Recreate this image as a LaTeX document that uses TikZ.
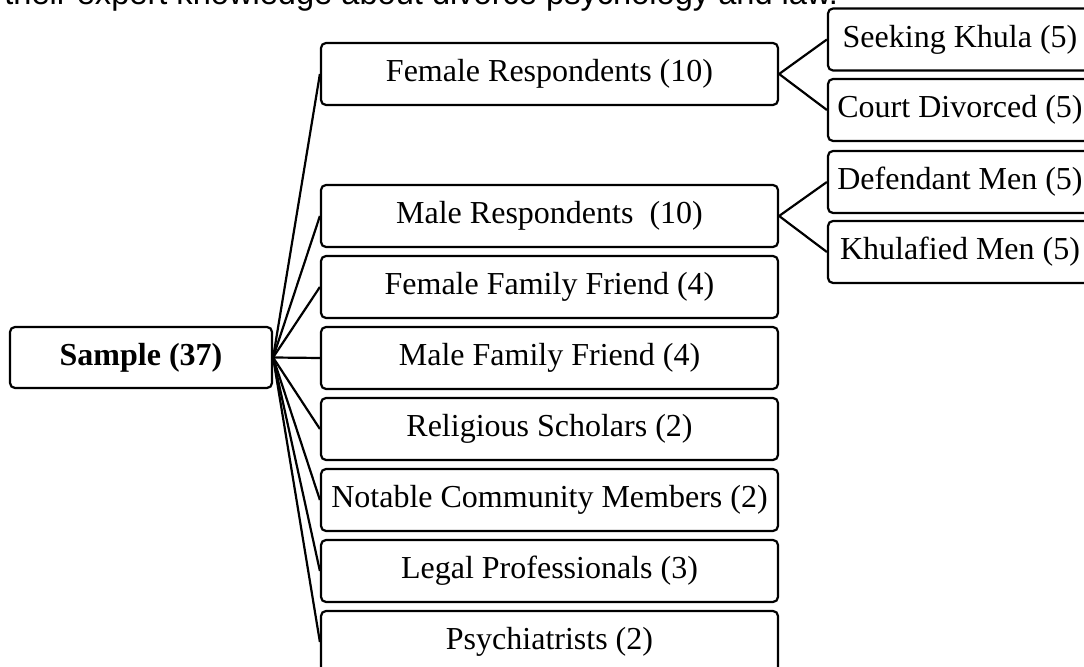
\documentclass[tikz,border=0pt]{standalone}
\usepackage{fontspec}
\setmainfont{Liberation Serif}
\newfontfamily\captfont{Liberation Sans}

\begin{document}
\begin{tikzpicture}[x=0.5pt,y=-0.5pt,
    box/.style={draw,line width=1.1pt,rounded corners=2.5pt,inner sep=0pt,
        minimum height=31pt,font=\fontsize{16}{19}\selectfont},
    midbox/.style={box,minimum width=228.5pt},
    subbox/.style={box,minimum width=132pt},
    link/.style={line width=1.1pt}]
    \useasboundingbox (0,0) rectangle (1084,667);
    \clip (0,0) rectangle (1084,667);

    \node[anchor=base west,inner sep=0pt,font=\captfont\fontsize{16.3}{19}\selectfont] (cap) at (4,4.5)
        {their expert knowledge about divorce psychology and law.};

    \node[box,minimum width=131pt,minimum height=30.5pt,
        font={\fontsize{16}{19}\selectfont\bfseries}] (sample) at (141,357.5) {Sample (37)};

    \node[midbox] (fr) at (549.5,74) {Female Respondents (10)};
    \foreach \nm/\lbl [count=\i from 0] in {mr/Male Respondents~ (10),fff/Female Family Friend (4),
        mff/Male Family Friend (4),rs/Religious Scholars (2),ncm/Notable Community Members (2),
        lp/Legal Professionals (3),ps/Psychiatrists (2)}
        \node[midbox] (\nm) at (549.5,216+71*\i) {\lbl};

    \node[subbox] (sk) at (960,39.5) {Seeking Khula (5)};
    \node[subbox] (cd) at (960,110) {Court Divorced (5)};
    \node[subbox] (dm) at (960,182) {Defendant Men (5)};
    \node[subbox] (km) at (960,252) {Khulafied Men (5)};

    \foreach \nm in {fr,mr,fff,mff,rs,ncm,lp,ps}
        \draw[link] (sample.east) -- (\nm.west);
    \draw[link] (sk.west) -- (fr.east) -- (cd.west);
    \draw[link] (dm.west) -- (mr.east) -- (km.west);
\end{tikzpicture}
\end{document}
